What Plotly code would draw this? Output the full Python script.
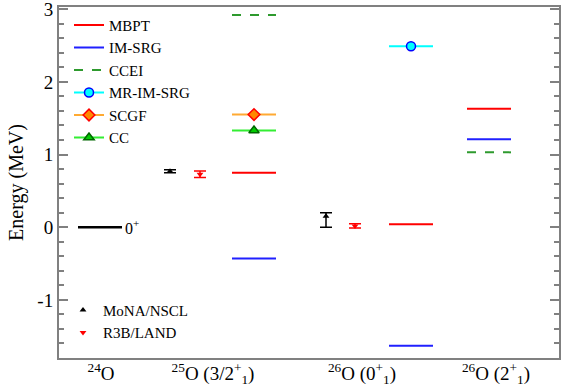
import plotly.graph_objects as go

# ---- data ----
category_labels = ["<sup>24</sup>O", "<sup>25</sup>O (3/2<sup>+</sup><sub>1</sub>)",
                   "<sup>26</sup>O (0<sup>+</sup><sub>1</sub>)", "<sup>26</sup>O (2<sup>+</sup><sub>1</sub>)"]
category_label_pos = [0.84, 3.08, 6.06, 8.74]

y_tick_vals = [-1, 0, 1, 2, 3]
y_tick_text = ["-1", "0", "1", "2", "3"]

# theory level positions (x centers) per state
theory_x = {"25O": 3.9, "26O_0": 7.04, "26O_2": 8.6}
half_width = 0.44

ground_x = 0.82
ground_energy = 0.0

mbpt = {"25O": 0.75, "26O_0": 0.04, "26O_2": 1.63}
imsrg = {"25O": -0.43, "26O_0": -1.63, "26O_2": 1.21}
ccei = {"25O": 2.92, "26O_2": 1.03}
mrimsrg = {"26O_0": 2.49}
scgf = {"25O": 1.55}
cc = {"25O": 1.33}

# experiments
mona_x = [2.22, 5.34]
mona_y = [0.77, 0.15]
mona_plus = [0.02, 0.05]
mona_minus = [0.02, 0.15]

r3b_x = [2.82, 5.92]
r3b_y = [0.728, 0.018]
r3b_plus = [0.045, 0.03]
r3b_minus = [0.045, 0.03]

FONT = "Times New Roman, Liberation Serif, DejaVu Serif, serif"


def segs(d):
    xs, ys = [], []
    for k, v in d.items():
        c = theory_x[k]
        xs += [c - half_width, c + half_width, None]
        ys += [v, v, None]
    return xs, ys


fig = go.Figure()

# ground state
fig.add_trace(go.Scatter(x=[ground_x - half_width, ground_x + half_width], y=[ground_energy, ground_energy],
                         mode="lines", line=dict(color="black", width=2.5), showlegend=False, hoverinfo="skip"))

models = [
    ("MBPT", mbpt, dict(color="#ff0000", width=2), None),
    ("IM-SRG", imsrg, dict(color="#2020ff", width=2), None),
    ("CCEI", ccei, dict(color="#2e9a2e", width=2, dash="dash"), None),
    ("MR-IM-SRG", mrimsrg, dict(color="#00ffff", width=2),
     dict(symbol="circle", size=9, color="#00ffff", line=dict(color="#0000ff", width=1.5))),
    ("SCGF", scgf, dict(color="#ffaa33", width=2),
     dict(symbol="diamond", size=9, color="#ff8800", line=dict(color="#ff0000", width=1.5))),
    ("CC", cc, dict(color="#33ee33", width=2),
     dict(symbol="triangle-up", size=9, color="#00cc00", line=dict(color="#006600", width=1.5))),
]

for name, d, ln, mk in models:
    xs, ys = segs(d)
    if mk is None:
        fig.add_trace(go.Scatter(x=xs, y=ys, mode="lines", line=ln, name=name, legend="legend"))
    else:
        fig.add_trace(go.Scatter(x=xs, y=ys, mode="lines", line=ln, name=name, showlegend=False))
        cx = [theory_x[k] for k in d]
        cy = list(d.values())
        fig.add_trace(go.Scatter(x=cx, y=cy, mode="lines+markers", line=ln, marker=mk, name=name,
                                 legend="legend"))

fig.add_trace(go.Scatter(x=mona_x, y=mona_y, mode="markers", name="MoNA/NSCL",
                         marker=dict(symbol="triangle-up", size=6, color="black"),
                         error_y=dict(type="data", symmetric=False, array=mona_plus, arrayminus=mona_minus,
                                      color="black", thickness=1.5, width=6),
                         legend="legend2"))
fig.add_trace(go.Scatter(x=r3b_x, y=r3b_y, mode="markers", name="R3B/LAND",
                         marker=dict(symbol="triangle-down", size=6, color="red"),
                         error_y=dict(type="data", symmetric=False, array=r3b_plus, arrayminus=r3b_minus,
                                      color="red", thickness=1.5, width=6),
                         legend="legend2"))

fig.add_annotation(x=ground_x + half_width, y=ground_energy, text="0<sup>+</sup>", showarrow=False,
                   xanchor="left", yanchor="middle", xshift=1, font=dict(family=FONT, size=16, color="black"))

fig.update_layout(
    width=561, height=392,
    margin=dict(l=59, r=2, t=7, b=34, autoexpand=False),
    plot_bgcolor="white", paper_bgcolor="white",
    font=dict(family=FONT, size=18, color="black"),
    legend=dict(x=0.02, y=0.995, xanchor="left", yanchor="top", bgcolor="rgba(0,0,0,0)",
                font=dict(family=FONT, size=15), tracegroupgap=0, itemwidth=30),
    legend2=dict(x=0.008, y=0.183, xanchor="left", yanchor="top", bgcolor="rgba(0,0,0,0)",
                 font=dict(family=FONT, size=15), itemwidth=30),
    xaxis=dict(range=[0, 10], tickvals=category_label_pos, ticktext=category_labels, showgrid=False,
               zeroline=False, showline=True, linecolor="#808080", linewidth=2, mirror=True, ticks="",
               automargin=False, ticklabelstandoff=-3, tickfont=dict(family=FONT, size=19)),
    yaxis=dict(range=[-1.8, 3.03], tickvals=y_tick_vals, ticktext=y_tick_text, showgrid=False,
               zeroline=False, showline=True, linecolor="#808080", ticklabeloverflow="allow",
               automargin=False,
               linewidth=2, mirror="allticks", ticks="inside", ticklen=9, tickcolor="#808080", tickwidth=1.5,
               minor=dict(dtick=0.2, ticks="inside", ticklen=5, tickcolor="#808080", tickwidth=1.5),
               title=dict(text="Energy (MeV)", font=dict(family=FONT, size=20), standoff=8),
               tickfont=dict(family=FONT, size=19)),
)

fig.write_html("out.html", config={"displayModeBar": False},
               post_script="document.body.style.margin='0';document.body.style.padding='0';")
